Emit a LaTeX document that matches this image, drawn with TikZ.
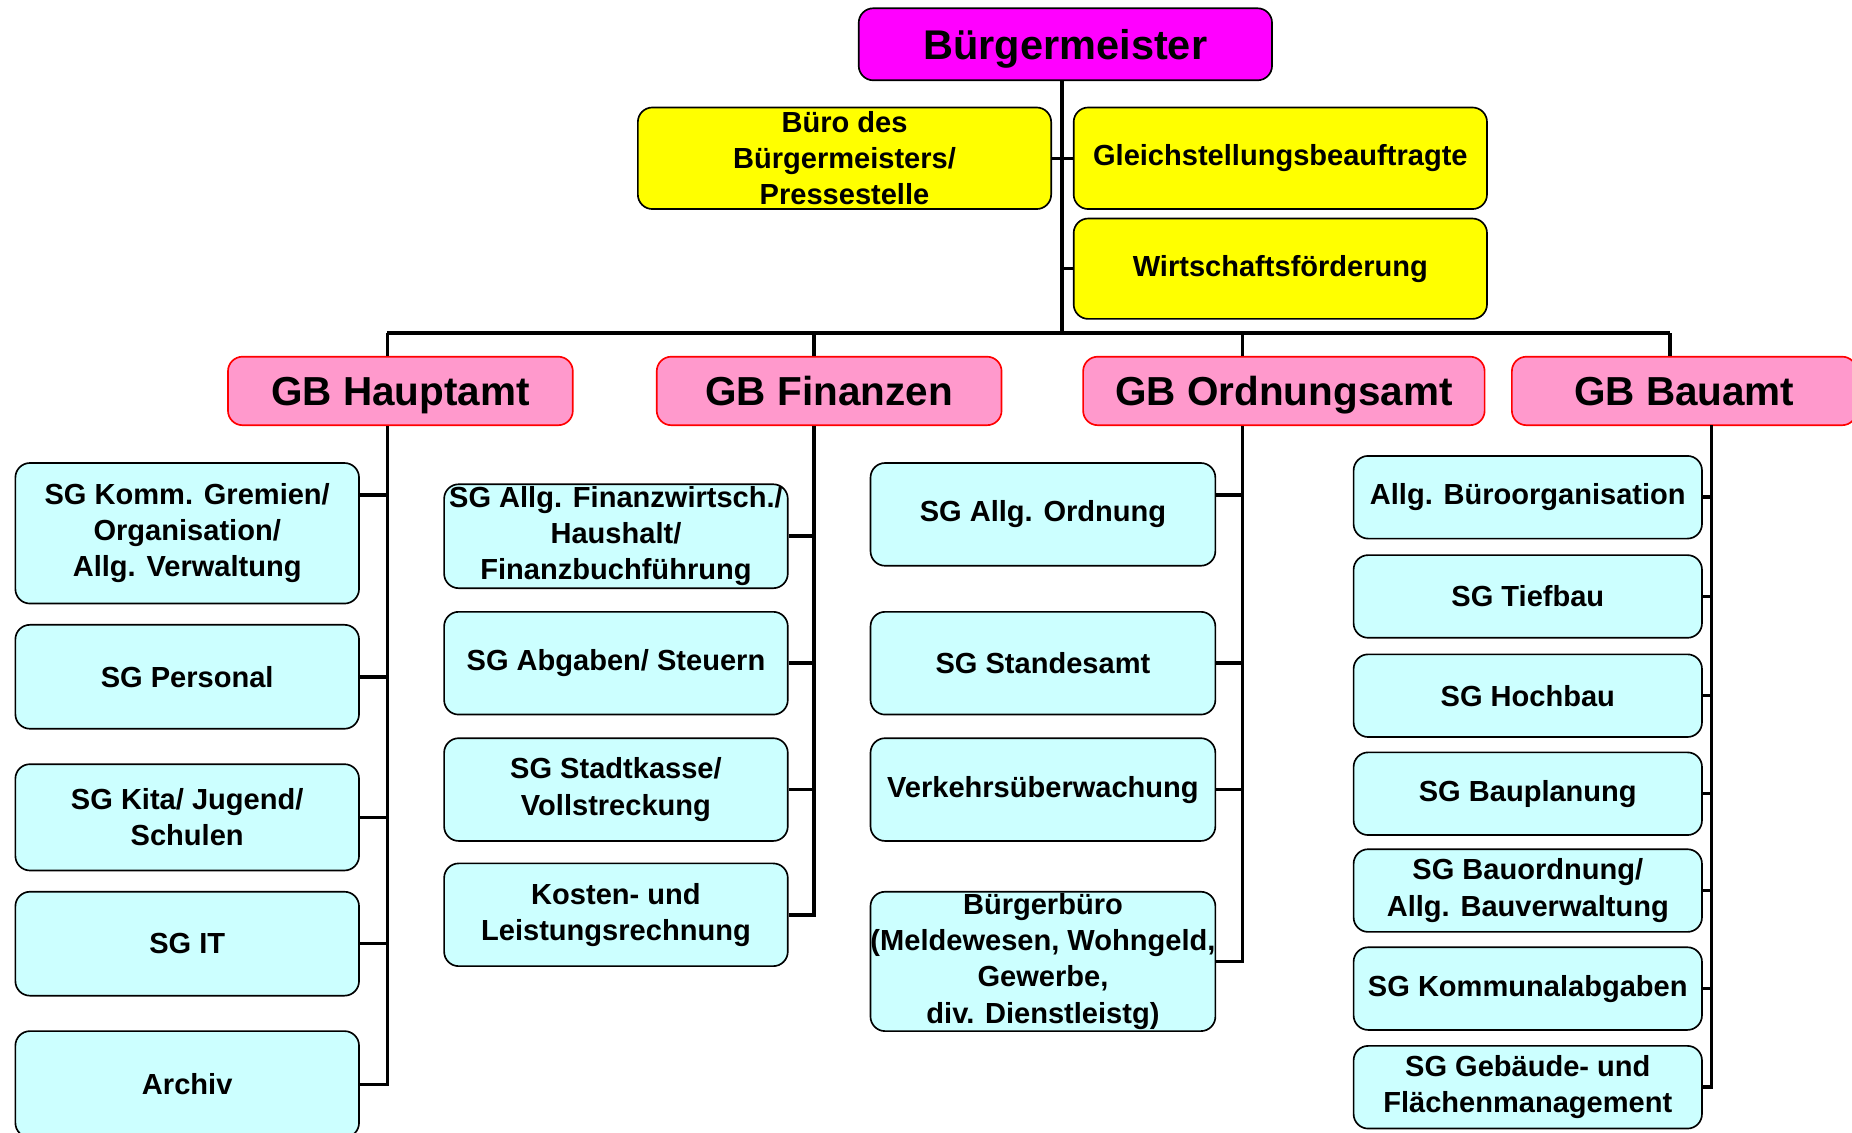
\documentclass[tikz,border=0pt]{standalone}
\usepackage{fontspec}
\setmainfont{Liberation Sans}
\definecolor{chefmagenta}{HTML}{FF00FF}
\definecolor{stabyellow}{HTML}{FFFF00}
\definecolor{gbpink}{HTML}{FF99CC}
\definecolor{gbred}{HTML}{FF0000}
\definecolor{sgcyan}{HTML}{CCFFFF}

\begin{document}
\begin{tikzpicture}[
  x=0.02cm, y=-0.02cm,
  chefBox/.style={draw=black, line width=0.8pt, fill=chefmagenta, rounded corners=7pt, minimum width=7cm, minimum height=1.22cm, inner sep=0pt, align=center, text height=14.3pt, text depth=0pt, font=\fontsize{20}{24}\selectfont\bfseries},
  stabBox/.style={draw=black, line width=0.8pt, fill=stabyellow, rounded corners=7pt, minimum width=7cm, minimum height=1.72cm, inner sep=0pt, align=center, font=\fontsize{14}{17.4}\selectfont\bfseries},
  gbBox/.style={draw=gbred, line width=0.8pt, fill=gbpink, rounded corners=7pt, minimum width=5.84cm, minimum height=1.16cm, inner sep=0pt, align=center, text height=14pt, text depth=0pt, font=\fontsize{19.5}{23}\selectfont\bfseries},
  sgBox/.style={draw=black, line width=0.8pt, fill=sgcyan, rounded corners=7pt, minimum width=5.82cm, minimum height=1.76cm, inner sep=0pt, align=center, font=\fontsize{14}{17.4}\selectfont\bfseries},
  orgLine/.style={draw=black, line width=1.7pt}
]
\clip (0,0) rectangle (1568,959);
\fill[white] (0,0) rectangle (1568,959);

% Leitung und Stabsstellen
\node[chefBox] (buerger) at (902,37.5) {Bürgermeister};
\node[stabBox] (bueroBM) at (715,134) {Büro des\\Bürgermeisters/\\Pressestelle};
\node[stabBox] (gleich) at (1084,134) {Gleichstellungsbeauftragte};
\node[stabBox, minimum height=1.7cm] (wirtschaft) at (1084,227.5) {Wirtschaftsförderung};

% Geschäftsbereiche
\node[gbBox] (gbHaupt) at (339,331) {GB Hauptamt};
\node[gbBox] (gbFinanz) at (702,331) {GB Finanzen};
\node[gbBox, minimum width=6.8cm] (gbOrdnung) at (1087,331) {GB Ordnungsamt};
\node[gbBox] (gbBau) at (1426,331) {GB Bauamt};

% Sachgebiete Hauptamt
\node[sgBox, minimum height=2.38cm] (hGremien) at (158.5,451.5) {SG Komm. Gremien/\\Organisation/\\Allg. Verwaltung};
\node[sgBox] (hPersonal) at (158.5,573) {SG Personal};
\node[sgBox, minimum height=1.8cm] (hKita) at (158.5,692) {SG Kita/ Jugend/\\Schulen};
\node[sgBox] (hIT) at (158.5,799) {SG IT};
\node[sgBox, minimum height=1.8cm] (hArchiv) at (158.5,918) {Archiv};

% Sachgebiete Finanzen
\node[sgBox] (fAllg) at (521.5,454) {SG Allg. Finanzwirtsch./\\Haushalt/\\Finanzbuchführung};
\node[sgBox, minimum height=1.74cm] (fAbgaben) at (521.5,561.5) {SG Abgaben/ Steuern};
\node[sgBox, minimum height=1.74cm] (fKasse) at (521.5,668.5) {SG Stadtkasse/\\Vollstreckung};
\node[sgBox, minimum height=1.74cm] (fKosten) at (521.5,774.5) {Kosten- und\\Leistungsrechnung};

% Sachgebiete Ordnungsamt
\node[sgBox, minimum width=5.84cm, minimum height=1.74cm] (oAllg) at (883,435.5) {SG Allg. Ordnung};
\node[sgBox, minimum width=5.84cm, minimum height=1.74cm] (oStandes) at (883,561.5) {SG Standesamt};
\node[sgBox, minimum width=5.84cm, minimum height=1.74cm] (oVerkehr) at (883,668.5) {Verkehrsüberwachung};
\node[sgBox, minimum width=5.84cm, minimum height=2.36cm] (oBuergerbuero) at (883,814) {Bürgerbüro\\(Meldewesen, Wohngeld,\\Gewerbe,\\div. Dienstleistg)};

% Sachgebiete Bauamt
\node[sgBox, minimum width=5.9cm, minimum height=1.4cm] (bBuero) at (1293.5,421) {Allg. Büroorganisation};
\node[sgBox, minimum width=5.9cm, minimum height=1.4cm] (bTief) at (1293.5,505) {SG Tiefbau};
\node[sgBox, minimum width=5.9cm, minimum height=1.4cm] (bHoch) at (1293.5,589) {SG Hochbau};
\node[sgBox, minimum width=5.9cm, minimum height=1.4cm] (bPlanung) at (1293.5,672) {SG Bauplanung};
\node[sgBox, minimum width=5.9cm, minimum height=1.4cm] (bOrdnung) at (1293.5,754) {SG Bauordnung/\\Allg. Bauverwaltung};
\node[sgBox, minimum width=5.9cm, minimum height=1.4cm] (bKommunal) at (1293.5,837) {SG Kommunalabgaben};
\node[sgBox, minimum width=5.9cm, minimum height=1.4cm] (bGebaeude) at (1293.5,920.5) {SG Gebäude- und\\Flächenmanagement};

% Linienverbindungen
\coordinate (busM) at (899,282);
\coordinate (busH) at (328,282);
\coordinate (busF) at (689,282);
\coordinate (busO) at (1052,282);
\coordinate (busB) at (1414,282);
\coordinate (spineB) at (1449,360);

\draw[orgLine] (buerger.south -| busM) -- (busM);
\draw[orgLine] (bueroBM.east) -- (bueroBM.east -| busM);
\draw[orgLine] (gleich.west) -- (gleich.west -| busM);
\draw[orgLine] (wirtschaft.west) -- (wirtschaft.west -| busM);
\draw[orgLine] (busH) -- (busB);

\draw[orgLine] (busH) -- (gbHaupt.north -| busH);
\draw[orgLine] (busF) -- (gbFinanz.north -| busF);
\draw[orgLine] (busO) -- (gbOrdnung.north -| busO);
\draw[orgLine] (busB) -- (gbBau.north -| busB);

\draw[orgLine] (gbHaupt.south -| busH) |- (hArchiv.east);
\draw[orgLine] ([yshift=0.65cm]hGremien.east) -- ([yshift=0.65cm]hGremien.east -| busH);
\draw[orgLine] (hPersonal.east) -- (hPersonal.east -| busH);
\draw[orgLine] (hKita.east) -- (hKita.east -| busH);
\draw[orgLine] (hIT.east) -- (hIT.east -| busH);

\draw[orgLine] (gbFinanz.south -| busF) |- (fKosten.east);
\draw[orgLine] (fAllg.east) -- (fAllg.east -| busF);
\draw[orgLine] (fAbgaben.east) -- (fAbgaben.east -| busF);
\draw[orgLine] (fKasse.east) -- (fKasse.east -| busF);

\draw[orgLine] (gbOrdnung.south -| busO) |- (oBuergerbuero.east);
\draw[orgLine] ([yshift=0.33cm]oAllg.east) -- ([yshift=0.33cm]oAllg.east -| busO);
\draw[orgLine] (oStandes.east) -- (oStandes.east -| busO);
\draw[orgLine] (oVerkehr.east) -- (oVerkehr.east -| busO);

\draw[orgLine] (spineB) |- (bGebaeude.east);
\draw[orgLine] (bBuero.east) -- (bBuero.east -| spineB);
\draw[orgLine] (bTief.east) -- (bTief.east -| spineB);
\draw[orgLine] (bHoch.east) -- (bHoch.east -| spineB);
\draw[orgLine] (bPlanung.east) -- (bPlanung.east -| spineB);
\draw[orgLine] (bOrdnung.east) -- (bOrdnung.east -| spineB);
\draw[orgLine] (bKommunal.east) -- (bKommunal.east -| spineB);

\end{tikzpicture}
\end{document}
